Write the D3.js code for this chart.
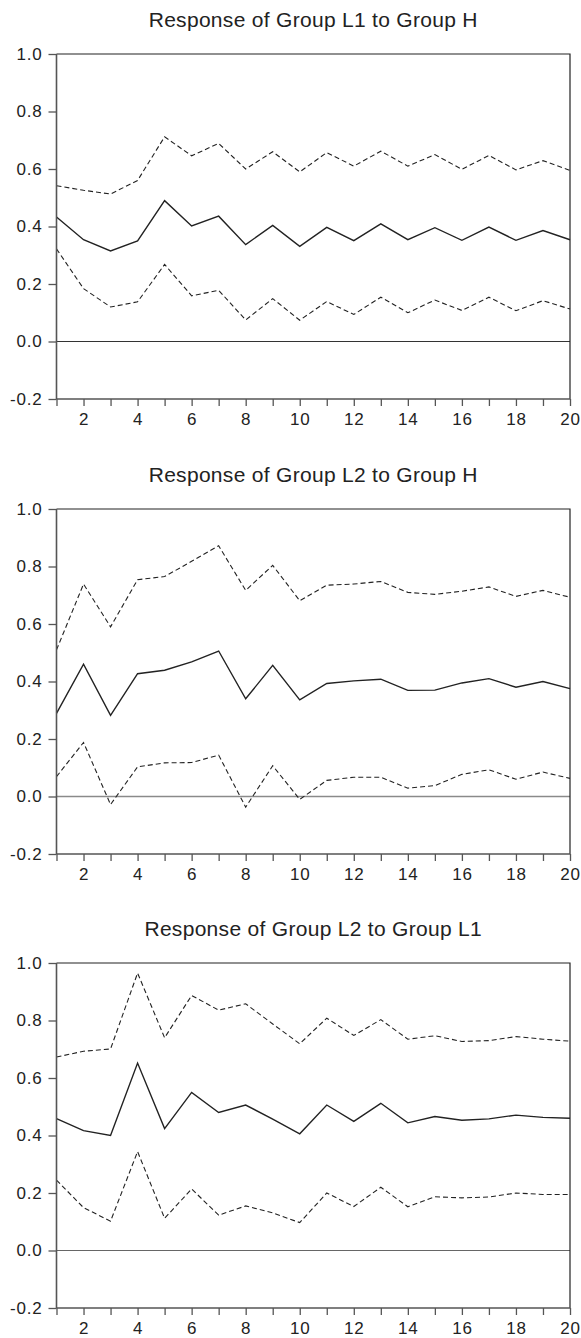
<!DOCTYPE html>
<html>
<head>
<meta charset="utf-8">
<script src="https://cdn.jsdelivr.net/npm/d3@7"></script>
<style>
    body { margin: 0; background: #fff; }
    svg { display: block; font-family: "Liberation Sans", Arial, sans-serif; }
</style>
</head>
<body>
<svg id="chart"></svg>
<script>
// horizons 1..20
const periods = d3.range(1, 21);
const yTicks = [-0.2, 0.0, 0.2, 0.4, 0.6, 0.8, 1.0];

const titles = [
    "Response of Group L1 to Group H",
    "Response of Group L2 to Group H",
    "Response of Group L2 to Group L1"
];

// panel 1
const l1hUpper = [0.542, 0.526, 0.513, 0.560, 0.712, 0.646, 0.689, 0.600, 0.660, 0.590,
                  0.657, 0.610, 0.662, 0.610, 0.650, 0.599, 0.647, 0.597, 0.629, 0.595];
const l1hResp  = [0.433, 0.354, 0.315, 0.350, 0.490, 0.402, 0.436, 0.337, 0.404, 0.331,
                  0.397, 0.351, 0.409, 0.354, 0.396, 0.352, 0.398, 0.352, 0.386, 0.354];
const l1hLower = [0.322, 0.184, 0.120, 0.138, 0.268, 0.159, 0.178, 0.075, 0.149, 0.074,
                  0.139, 0.094, 0.154, 0.100, 0.144, 0.108, 0.154, 0.107, 0.142, 0.113];

// panel 2
const l2hUpper = [0.510, 0.739, 0.590, 0.754, 0.765, 0.818, 0.872, 0.717, 0.804, 0.681,
                  0.735, 0.739, 0.748, 0.710, 0.703, 0.714, 0.729, 0.696, 0.717, 0.693];
const l2hResp  = [0.289, 0.460, 0.282, 0.427, 0.439, 0.468, 0.506, 0.340, 0.456, 0.336,
                  0.393, 0.402, 0.408, 0.369, 0.370, 0.395, 0.410, 0.380, 0.400, 0.375];
const l2hLower = [0.069, 0.188, -0.028, 0.103, 0.117, 0.118, 0.144, -0.037, 0.107, -0.010,
                  0.056, 0.067, 0.067, 0.029, 0.038, 0.077, 0.093, 0.060, 0.085, 0.063];

// panel 3
const l2l1Upper = [0.673, 0.693, 0.701, 0.965, 0.740, 0.887, 0.836, 0.858, 0.788, 0.719,
                   0.808, 0.748, 0.803, 0.735, 0.747, 0.727, 0.730, 0.744, 0.735, 0.728];
const l2l1Resp  = [0.459, 0.417, 0.400, 0.652, 0.424, 0.550, 0.480, 0.506, 0.457, 0.406,
                   0.506, 0.449, 0.512, 0.444, 0.466, 0.453, 0.458, 0.471, 0.463, 0.460];
const l2l1Lower = [0.245, 0.149, 0.102, 0.344, 0.112, 0.214, 0.123, 0.155, 0.131, 0.097,
                   0.200, 0.153, 0.220, 0.152, 0.187, 0.183, 0.186, 0.200, 0.195, 0.195];

const panels = [
    { title: titles[0], upper: l1hUpper, resp: l1hResp, lower: l1hLower, zero: "#333", zeroW: 1 },
    { title: titles[1], upper: l2hUpper, resp: l2hResp, lower: l2hLower, zero: "#8a8a8a", zeroW: 1.6 },
    { title: titles[2], upper: l2l1Upper, resp: l2l1Resp, lower: l2l1Lower, zero: "#666", zeroW: 1.2 }
];

const width = 581, height = 1338;
const left = 56.5, right = 570;
const tops = [54, 509, 963];
const ph = 345;

const svg = d3.select("#chart")
    .attr("width", width)
    .attr("height", height);

const x = d3.scaleLinear().domain([1, 20]).range([left, right]);
const y = d3.scaleLinear().domain([-0.2, 1.0]).range([ph, 0]);

const line = d3.line()
    .x((d, i) => x(periods[i]))
    .y(d => y(d));

panels.forEach((p, k) => {
    const g = svg.append("g").attr("transform", `translate(0, ${tops[k]})`);

    g.append("text")
        .attr("x", (left + right) / 2)
        .attr("y", -27)
        .attr("text-anchor", "middle")
        .style("font-size", "21px")
        .style("letter-spacing", "0.3px")
        .attr("fill", "#222")
        .text(p.title);

    // zero line
    g.append("line")
        .attr("x1", left).attr("x2", right)
        .attr("y1", y(0)).attr("y2", y(0))
        .attr("stroke", p.zero)
        .attr("stroke-width", p.zeroW);

    // top and right border
    g.append("path")
        .attr("d", `M${left},0H${right}V${ph}`)
        .attr("fill", "none")
        .attr("stroke", "#222")
        .attr("stroke-width", 1.2);

    g.append("path")
        .datum(p.upper)
        .attr("d", line)
        .attr("fill", "none")
        .attr("stroke", "#222")
        .attr("stroke-width", 1.1)
        .attr("stroke-dasharray", "5,3");

    g.append("path")
        .datum(p.lower)
        .attr("d", line)
        .attr("fill", "none")
        .attr("stroke", "#222")
        .attr("stroke-width", 1.1)
        .attr("stroke-dasharray", "5,3");

    g.append("path")
        .datum(p.resp)
        .attr("d", line)
        .attr("fill", "none")
        .attr("stroke", "#222")
        .attr("stroke-width", 1.4);

    const yAxis = d3.axisLeft(y)
        .tickValues(yTicks)
        .tickSize(8)
        .tickPadding(6)
        .tickFormat(d => d.toFixed(1));
    const yg = g.append("g")
        .attr("transform", `translate(${left}, 0)`)
        .call(yAxis);

    const xAxis = d3.axisBottom(x)
        .tickValues(periods)
        .tickSize(7)
        .tickPadding(7)
        .tickFormat(d => d % 2 === 0 ? d : "");
    const xg = g.append("g")
        .attr("transform", `translate(0, ${ph})`)
        .call(xAxis);

    [yg, xg].forEach(a => {
        a.select(".domain").attr("stroke", "#555").attr("stroke-width", 1.6);
        a.selectAll(".tick line").attr("stroke", "#555").attr("stroke-width", 1.3);
        a.selectAll(".tick text")
            .attr("fill", "#222")
            .style("font-size", "17px")
            .style("letter-spacing", "0.8px")
            .style("font-family", "'Liberation Sans', Arial, sans-serif");
    });
    yg.select(".domain").attr("d", `M0,${ph}V0`);
    xg.select(".domain").attr("d", `M${left},0H${right}`);
});
</script>
</body>
</html>
